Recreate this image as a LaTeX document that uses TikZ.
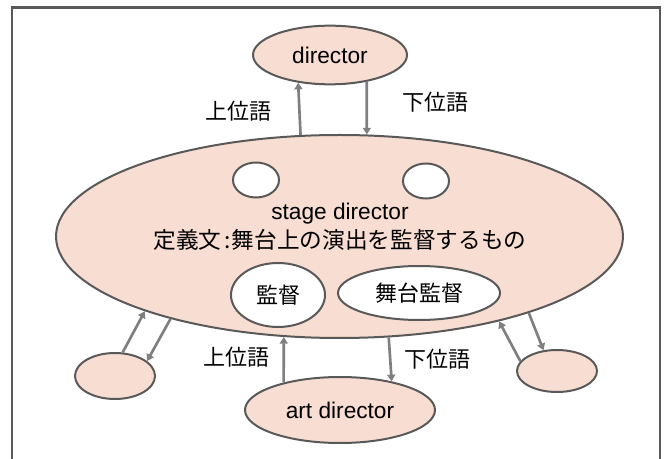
\documentclass[tikz,border=0pt]{standalone}
\usepackage{fontspec}
\setmainfont{Liberation Sans}
\newfontfamily\jpfont{Noto Sans CJK JP}
\usetikzlibrary{shapes.geometric,arrows.meta}
\definecolor{peach}{HTML}{F8DDD2}
\definecolor{edgegray}{HTML}{595959}
\definecolor{arrowgray}{HTML}{7F7F7F}
\tikzset{
	term/.style={ellipse, draw=edgegray, fill=peach, line width=1.5pt, inner sep=0pt, font=\fontsize{17}{20}\selectfont},
	hole/.style={term, fill=white, font=\jpfont\fontsize{16.5}{20}\selectfont},
	rel/.style={draw=arrowgray, line width=2pt, -{Triangle[length=5pt,width=6pt]}},
	rellabel/.style={inner sep=0pt, font=\jpfont\fontsize{16.5}{20}\selectfont}
}
\begin{document}
\begin{tikzpicture}[x=0.75pt, y=-0.75pt]
		\useasboundingbox (0, 0) rectangle (667, 459);
		\begin{scope}
			\clip (0, 0) rectangle (667, 459);
			\draw[edgegray, line width=2pt] (12, 480) -- (12, 7.5) -- (660, 7.5) -- (660, 480);
		\end{scope}

		\node[term, minimum width=115.5pt, minimum height=44pt] (director) at (330, 55) {director};
		\node[term, minimum width=425.25pt, minimum height=152.25pt] (stage) at (339.5, 236.5) {};
		\node[hole, minimum width=34.5pt, minimum height=26.25pt] (slotL) at (256, 180) {};
		\node[hole, minimum width=34.5pt, minimum height=26.25pt] (slotR) at (426, 181) {};
		\node[inner sep=0pt, font=\fontsize{17}{20}\selectfont] (stagename) at (340, 214) {stage director};
		\node[rellabel, font=\jpfont\fontsize{17}{20}\selectfont] (gloss) at (340, 240) {定義文\hspace{2pt}:\hspace{1pt}舞台上の演出を監督するもの};
		\node[hole, minimum width=70.5pt, minimum height=48pt] (kantoku) at (278, 295) {監督};
		\node[hole, minimum width=121.5pt, minimum height=40.5pt] (butai) at (419, 293) {舞台監督};
		\node[term, minimum width=60pt, minimum height=34.5pt] (sideL) at (115, 376) {};
		\node[term, minimum width=60pt, minimum height=31.5pt] (sideR) at (557, 371) {};
		\node[term, minimum width=142.5pt, minimum height=49.5pt] (art) at (340, 410) {art director};

		\draw[rel] (stage.111.5) -- (director.221.7);
		\draw[rel] (director.324.6) -- (stage.75.3);
		\draw[rel] (art.154.3) -- (stage.241.3);
		\draw[rel] (stage.296.4) -- (art.29.6);
		\draw[rel] (sideL.72.8) -- (stage.201.7);
		\draw[rel] (stage.206.3) -- (sideL.25.1);
		\draw[rel] (sideR.165.7) -- (stage.332.3);
		\draw[rel] (stage.338.1) -- (sideR.123.2);

		\node[rellabel] (hyperT) at (238, 111) {上位語};
		\node[rellabel] (hypoT) at (435, 102) {下位語};
		\node[rellabel] (hyperB) at (236, 357) {上位語};
		\node[rellabel] (hypoB) at (437, 359) {下位語};
	\end{tikzpicture}
\end{document}
